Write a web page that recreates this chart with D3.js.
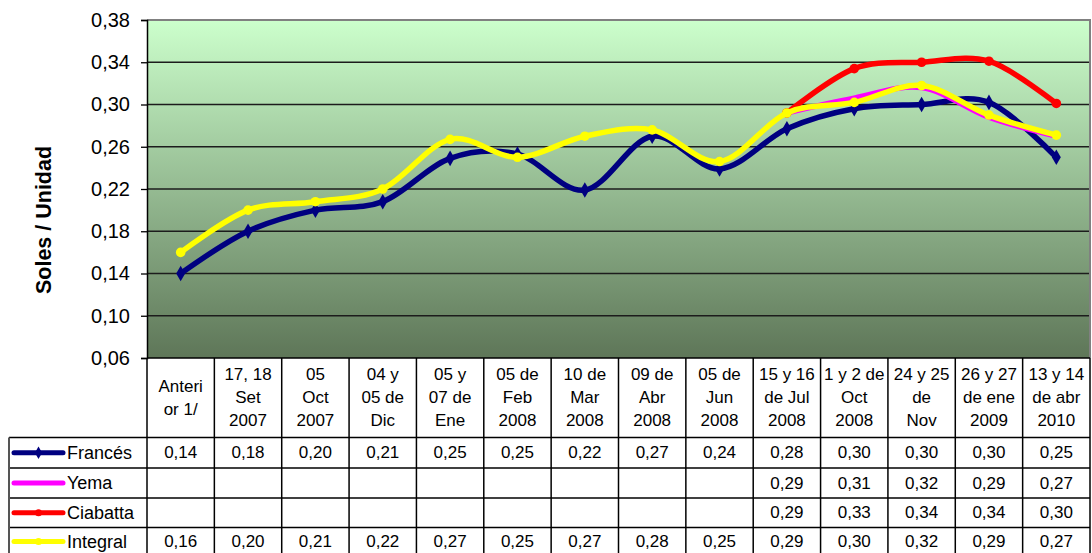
<!DOCTYPE html>
<html><head><meta charset="utf-8">
<script src="https://cdn.jsdelivr.net/npm/d3@7"></script>
<style>
body{margin:0;background:#fff;}
svg{display:block;font-family:"Liberation Sans",Arial,sans-serif;}
</style></head>
<body>
<script>
const categories = [
  ["Anteri","or 1/"],
  ["17, 18","Set","2007"],
  ["05","Oct","2007"],
  ["04 y","05 de","Dic"],
  ["05 y","07 de","Ene"],
  ["05 de","Feb","2008"],
  ["10 de","Mar","2008"],
  ["09 de","Abr","2008"],
  ["05 de","Jun","2008"],
  ["15 y 16","de Jul","2008"],
  ["1 y 2 de","Oct","2008"],
  ["24 y 25","de","Nov"],
  ["26 y 27","de ene","2009"],
  ["13 y 14","de abr","2010"]
];
const frances  = [0.14, 0.18, 0.20, 0.208, 0.249, 0.253, 0.219, 0.27, 0.239, 0.277, 0.296, 0.30, 0.302, 0.25];
const yema     = [null, null, null, null, null, null, null, null, null, 0.292, 0.306, 0.316, 0.288, 0.27];
const ciabatta = [null, null, null, null, null, null, null, null, null, 0.292, 0.334, 0.34, 0.341, 0.301];
const integral = [0.16, 0.20, 0.208, 0.22, 0.267, 0.25, 0.27, 0.276, 0.246, 0.292, 0.302, 0.318, 0.29, 0.271];
const yTicks = [0.06, 0.10, 0.14, 0.18, 0.22, 0.26, 0.30, 0.34, 0.38];

const series = [
  {name:"Francés", values:frances, color:"#000080", marker:"diamond"},
  {name:"Yema", values:yema, color:"#FF00FF", marker:"none"},
  {name:"Ciabatta", values:ciabatta, color:"#FF0000", marker:"circle"},
  {name:"Integral", values:integral, color:"#FFFF00", marker:"circle"}
];

const W = 1092, H = 553;
const L = 147, R = 1090, T = 20, B = 358;
const svg = d3.select("body").append("svg").attr("width", W).attr("height", H);

const x = d3.scaleBand().domain(d3.range(categories.length)).range([L, R]).padding(0);
const y = d3.scaleLinear().domain([0.06, 0.38]).range([B, T]);
const cx = i => x(i) + x.bandwidth()/2;

// gradient
const defs = svg.append("defs");
const grad = defs.append("linearGradient").attr("id","bg").attr("x1",0).attr("y1",0).attr("x2",0).attr("y2",1);
grad.append("stop").attr("offset","0%").attr("stop-color","#CCFFCC");
grad.append("stop").attr("offset","100%").attr("stop-color","#5E7658");
svg.append("rect").attr("x",L).attr("y",T).attr("width",R-L).attr("height",B-T).attr("fill","url(#bg)");

// grid
svg.append("g").selectAll("line").data(yTicks.filter(t => t>0.061 && t<0.379)).join("line")
  .attr("x1",L).attr("x2",R).attr("y1",d=>y(d)).attr("y2",d=>y(d))
  .attr("stroke","#1c1c1c").attr("stroke-width",1.3);
// top/right border
svg.append("path").attr("d",`M${L},${T}H${R}V${B}`).attr("fill","none").attr("stroke","#808080").attr("stroke-width",2);

// y axis
const fmt = v => d3.format(".2f")(v).replace(".", ",");
const yAxis = d3.axisLeft(y).tickValues(yTicks).tickFormat(fmt).tickSize(6).tickPadding(11);
const ga = svg.append("g").attr("transform",`translate(${L},0)`).call(yAxis);
ga.select(".domain").attr("stroke","#000").attr("stroke-width",1.5);
ga.selectAll(".tick line").attr("stroke","#000").attr("stroke-width",1.3);
ga.selectAll("text").attr("font-size",20).attr("fill","#000").attr("font-family","Liberation Sans, Arial, sans-serif");

svg.append("text").attr("transform","translate(44,220) rotate(-90)")
  .attr("text-anchor","middle").attr("dominant-baseline","central")
  .attr("font-size",21.5).attr("font-weight","bold").text("Soles / Unidad");

// lines
const line = d3.line().defined(d => d != null).x((d,i)=>cx(i)).y(d=>y(d)).curve(d3.curveCatmullRom.alpha(0));
const diamond = d3.symbol().type(d3.symbolDiamond).size(70);
series.forEach(s => {
  svg.append("path").attr("d", line(s.values)).attr("fill","none").attr("stroke",s.color)
    .attr("stroke-width",5.5).attr("stroke-linejoin","round").attr("stroke-linecap","round");
  const pts = s.values.map((v,i)=>({v,i})).filter(d=>d.v!=null);
  if (s.marker==="circle") {
    svg.append("g").selectAll("circle").data(pts).join("circle")
      .attr("cx",d=>cx(d.i)).attr("cy",d=>y(d.v)).attr("r",4.8).attr("fill",s.color);
  } else if (s.marker==="diamond") {
    svg.append("g").selectAll("path").data(pts).join("path")
      .attr("d",diamond).attr("transform",d=>`translate(${cx(d.i)},${y(d.v)})`).attr("fill",s.color);
  }
});

// data table
const hdrTop = B, hdrBot = 437.5;
const rowBounds = [437.5, 468, 498, 527.5, 560];
const tbl = svg.append("g").attr("stroke","#000").attr("stroke-width",1.5);
tbl.append("line").attr("x1",L).attr("x2",R).attr("y1",B).attr("y2",B);
d3.range(categories.length+1).forEach(i => {
  const xx = i < categories.length ? x(i) : R;
  tbl.append("line").attr("x1",xx).attr("x2",xx).attr("y1",hdrTop).attr("y2",H);
});
rowBounds.slice(0,4).forEach(yy => {
  tbl.append("line").attr("x1",9).attr("x2",R).attr("y1",yy).attr("y2",yy);
});
svg.append("line").attr("x1",9).attr("x2",9).attr("y1",437.5).attr("y2",H).attr("stroke","#555").attr("stroke-width",2);

// header text
categories.forEach((c,i) => {
  const n = c.length, mid = (hdrTop+hdrBot)/2, lh = 23;
  c.forEach((t,k) => {
    svg.append("text").attr("x",cx(i)).attr("y",mid + (k-(n-1)/2)*lh)
      .attr("text-anchor","middle").attr("dominant-baseline","central")
      .attr("font-size",17).attr("fill","#000").text(t);
  });
});

// rows
series.forEach((s,r) => {
  const yc = r===3 ? 541.5 : (rowBounds[r] + rowBounds[r+1])/2;
  svg.append("line").attr("x1",14).attr("x2",63).attr("y1",yc).attr("y2",yc)
    .attr("stroke",s.color).attr("stroke-width",5).attr("stroke-linecap","round");
  if (s.marker==="circle") svg.append("circle").attr("cx",38.5).attr("cy",yc).attr("r",3.5).attr("fill",s.color);
  if (s.marker==="diamond") svg.append("path").attr("d",d3.symbol().type(d3.symbolDiamond).size(45)).attr("transform",`translate(38.5,${yc})`).attr("fill",s.color);
  svg.append("text").attr("x",67).attr("y",yc).attr("dominant-baseline","central")
    .attr("font-size",18).attr("fill","#000").text(s.name);
  s.values.forEach((v,i) => {
    if (v==null) return;
    svg.append("text").attr("x",cx(i)).attr("y",yc).attr("text-anchor","middle").attr("dominant-baseline","central")
      .attr("font-size",17).attr("fill","#000").text(fmt(v));
  });
});
</script>
</body></html>
